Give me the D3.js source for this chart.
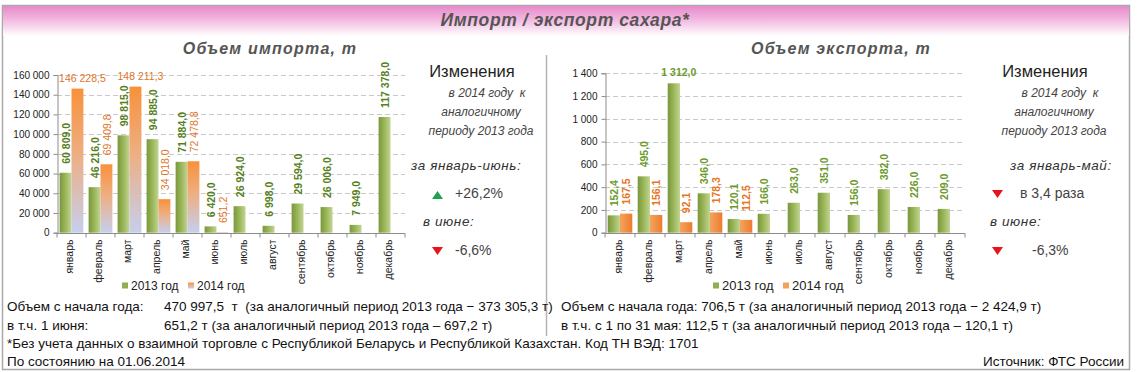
<!DOCTYPE html>
<html>
<head>
<meta charset="utf-8">
<script src="https://cdn.jsdelivr.net/npm/d3@7"></script>
<style>
  body { margin: 0; background: #fff; }
  svg { display: block; font-family: "Liberation Sans", Arial, sans-serif; }
  text { white-space: pre; }
</style>
</head>
<body>
<div id="chart"></div>
<script>
// months on the x axis
var MONTHS = ["январь","февраль","март","апрель","май","июнь","июль","август","сентябрь","октябрь","ноябрь","декабрь"]
var SERIES = ["2013 год","2014 год"]

// import, tonnes
var import2013 = [60809.0, 46216.0, 98815.0, 94885.0, 71884.0, 6420.0, 26924.0, 6998.0, 29594.0, 26006.0, 7949.0, 117378.0]
var import2014 = [146228.5, 69409.8, 148211.3, 34018.0, 72478.8, 651.2]
var importTicks = [0, 20000, 40000, 60000, 80000, 100000, 120000, 140000, 160000]

// export, tonnes
var export2013 = [152.4, 495.0, 1312.0, 346.0, 120.1, 166.0, 263.0, 351.0, 156.0, 382.0, 226.0, 209.0]
var export2014 = [167.5, 156.1, 92.1, 178.3, 112.5]
var exportTicks = [0, 200, 400, 600, 800, 1000, 1200, 1400]

var W = 1145, H = 372

var ru = d3.formatLocale({decimal: ",", thousands: " ", grouping: [3], currency: ["", ""]})
var fmtTick = ru.format(",")
var fmtVal = ru.format(",.1f")

var svg = d3.select("#chart").append("svg")
  .attr("width", W)
  .attr("height", H)

var defs = svg.append("defs")

function grad(id, x2, y2, stops) {
  var g = defs.append("linearGradient").attr("id", id)
    .attr("x1", 0).attr("y1", 0).attr("x2", x2).attr("y2", y2)
  stops.forEach(function(s) {
    g.append("stop").attr("offset", s[0]).attr("stop-color", s[1])
  })
}
grad("hdr", 0, 1, [[0, "#e68acb"], [0.45, "#f2b7df"], [1, "#ffffff"]])
grad("green", 1, 0, [[0, "#7a973b"], [0.5, "#9bb75a"], [1, "#c2d595"]])
grad("orangeImp", 0, 1, [[0, "#f8913a"], [0.45, "#eeae82"], [1, "#c6cfed"]])
grad("orangeExp", 1, 0, [[0, "#f6a35c"], [1, "#ec7d30"]])

// frame + header band
svg.append("rect")
  .attr("x", 2.5).attr("y", 5.5).attr("width", 1127).attr("height", 364)
  .attr("fill", "#fff").attr("stroke", "#a9a9a9").attr("stroke-width", 1.5)
svg.append("rect")
  .attr("x", 3).attr("y", 6).attr("width", 1126).attr("height", 30)
  .attr("fill", "url(#hdr)")

svg.append("text")
  .attr("x", 565).attr("y", 26)
  .attr("text-anchor", "middle")
  .style("font-size", "17.5px").style("font-weight", "bold").style("font-style", "italic")
  .style("letter-spacing", "0.6px")
  .attr("fill", "#555")
  .text("Импорт / экспорт сахара*")

svg.append("line")
  .attr("x1", 546.5).attr("x2", 546.5).attr("y1", 55).attr("y2", 336)
  .attr("stroke", "#b5b5b5").attr("stroke-width", 1.5)

function drawChart(cfg) {
  var g = svg.append("g")

  g.append("text")
    .attr("x", cfg.titleX).attr("y", 54)
    .attr("text-anchor", "middle")
    .style("font-size", "16px").style("font-weight", "bold").style("font-style", "italic")
    .style("letter-spacing", "1.2px")
    .attr("fill", "#555")
    .text(cfg.title)

  var x = d3.scaleBand()
    .domain(MONTHS)
    .range(cfg.xRange)

  var y = d3.scaleLinear()
    .domain([0, cfg.ticks[cfg.ticks.length - 1]])
    .range(cfg.yRange)

  // dashed gridlines
  g.append("g")
    .selectAll("line")
    .data(cfg.ticks.slice(1))
    .enter()
    .append("line")
    .attr("x1", cfg.xRange[0]).attr("x2", cfg.xRange[1])
    .attr("y1", d => Math.round(y(d)) + 0.5).attr("y2", d => Math.round(y(d)) + 0.5)
    .attr("stroke", "#c9c9c9")
    .attr("stroke-dasharray", "5,3")

  // y axis
  var ya = g.append("g")
    .attr("transform", "translate(" + (cfg.xRange[0] + 0.5) + ",0)")
    .call(d3.axisLeft(y).tickValues(cfg.ticks).tickFormat(fmtTick).tickSize(4).tickPadding(4))
  ya.select(".domain").attr("stroke", "#8c8c8c")
  ya.selectAll(".tick line").attr("stroke", "#8c8c8c")
  ya.selectAll(".tick text").attr("fill", "#222").style("font-size", "10px").style("font-family", "Liberation Sans, Arial, sans-serif")

  // x axis: line, ticks at band edges, rotated month names
  var y0 = Math.round(y(0)) + 0.5
  g.append("line")
    .attr("x1", cfg.xRange[0]).attr("x2", cfg.xRange[1])
    .attr("y1", y0).attr("y2", y0)
    .attr("stroke", "#8c8c8c")
  g.append("g")
    .selectAll("line")
    .data(MONTHS.concat(["end"]))
    .enter()
    .append("line")
    .attr("x1", (d, i) => x.range()[0] + i * x.step())
    .attr("x2", (d, i) => x.range()[0] + i * x.step())
    .attr("y1", y0).attr("y2", y0 + 4)
    .attr("stroke", "#8c8c8c")

  g.append("g")
    .selectAll("text")
    .data(MONTHS)
    .enter()
    .append("text")
    .attr("transform", d => "translate(" + (x(d) + x.bandwidth() / 2 - 2) + "," + (y0 + 6) + ") rotate(-90)")
    .attr("text-anchor", "end")
    .attr("dy", "0.35em")
    .style("font-size", "10.5px")
    .attr("fill", "#222")
    .text(d => d)

  var bw = x.bandwidth() * 0.41
  var series = [
    {vals: cfg.a, off: -bw, fill: "url(#green)", color: cfg.aColor, weight: "bold"},
    {vals: cfg.b, off: 0, fill: cfg.bFill, color: cfg.bColor, weight: cfg.bWeight}
  ]

  series.forEach(function(s) {
    var data = s.vals.map((v, i) => ({m: MONTHS[i], v: v}))
    g.append("g")
      .selectAll("rect")
      .data(data)
      .enter()
      .append("rect")
      .attr("x", d => x(d.m) + x.bandwidth() / 2 + s.off)
      .attr("y", d => y(d.v))
      .attr("width", bw)
      .attr("height", d => y(0) - y(d.v))
      .attr("fill", s.fill)

    // labels: rotated above the bar, or flat when it would run out of the plot
    g.append("g")
      .selectAll("text")
      .data(data)
      .enter()
      .append("text")
      .each(function(d) {
        var cx = x(d.m) + x.bandwidth() / 2 + s.off + bw / 2
        var top = y(d.v)
        var t = d3.select(this)
        var flat = top - 9 - fmtVal(d.v).length * 5.4 < 52
        if (flat) {
          t.attr("x", cx + 5).attr("y", top - 7).attr("text-anchor", "middle")
        } else {
          t.attr("transform", "translate(" + (cx + 0.5) + "," + (top - 9) + ") rotate(-90)")
            .attr("dy", "0.35em")
            .attr("text-anchor", "start")
        }
      })
      .style("font-size", "10.5px")
      .style("font-weight", s.weight)
      .attr("fill", s.color)
      .text(d => fmtVal(d.v))
  })

  // legend
  var lg = g.append("g").attr("transform", "translate(" + cfg.legendX + ",290)")
  var items = lg.selectAll("g")
    .data(SERIES)
    .enter()
    .append("g")
    .attr("transform", (d, i) => "translate(" + (i * cfg.legendStep) + ",0)")
  items.append("rect")
    .attr("x", 0).attr("y", -7.5).attr("width", 6).attr("height", 6)
    .attr("fill", (d, i) => i == 0 ? "#8fae4f" : cfg.bLegend)
  items.append("text")
    .attr("x", 9).attr("y", 0)
    .style("font-size", cfg.legendSize)
    .attr("fill", "#222")
    .text(d => d)

  // right-hand "changes" panel
  var p = svg.append("g")
  p.append("text").attr("x", cfg.panelX).attr("y", 77).attr("text-anchor", "middle")
    .style("font-size", "16.5px").attr("fill", "#222").text("Изменения")
  var it = ["в 2014 году  к", "аналогичному", "периоду 2013 года"]
  p.selectAll(".it").data(it).enter().append("text")
    .attr("x", (d, i) => cfg.panelX + (i == 0 ? 15 : 9)).attr("y", (d, i) => 97 + i * 19)
    .attr("text-anchor", "middle")
    .style("font-size", "12px").style("font-style", "italic").attr("fill", "#444")
    .text(d => d)
  p.append("text").attr("x", cfg.periodX).attr("y", 170)
    .style("font-size", "13.5px").style("font-style", "italic").style("letter-spacing", "0.6px")
    .attr("fill", "#333").text(cfg.period)
  p.append("text").attr("x", cfg.juneX).attr("y", 226)
    .style("font-size", "13.5px").style("font-style", "italic").style("letter-spacing", "0.6px")
    .attr("fill", "#333").text("в июне:")

  var tx = cfg.triX
  var tri = p.append("path")
    .attr("fill", cfg.upFirst ? "#1ea24f" : "#e8141b")
  if (cfg.upFirst) tri.attr("d", "M" + tx + ",199 L" + (tx + 11) + ",199 L" + (tx + 5.5) + ",191 Z")
  else tri.attr("d", "M" + tx + ",190 L" + (tx + 11) + ",190 L" + (tx + 5.5) + ",198 Z")
  p.append("path").attr("fill", "#e8141b")
    .attr("d", "M" + tx + ",247 L" + (tx + 11) + ",247 L" + (tx + 5.5) + ",255 Z")
  p.append("text").attr("x", cfg.chgX).attr("y", 198)
    .style("font-size", "14px").attr("fill", "#444").text(cfg.chg1)
  p.append("text").attr("x", cfg.chgX2).attr("y", 255)
    .style("font-size", "14px").attr("fill", "#444").text(cfg.chg2)
}

drawChart({
  title: "Объем импорта, т", titleX: 270,
  xRange: [57, 405], yRange: [232.7, 75], ticks: importTicks,
  a: import2013, b: import2014,
  aColor: "#56801c",
  bFill: "url(#orangeImp)", bColor: "#e0742a", bWeight: "normal", bLegend: "url(#orangeImp)",
  legendX: 122, legendStep: 66, legendSize: "12px",
  panelX: 472, periodX: 411, period: "за январь-июнь:", juneX: 423, triX: 432,
  upFirst: true, chg1: "+26,2%", chg2: "-6,6%", chgX: 455, chgX2: 455
})

drawChart({
  title: "Объем экспорта, т", titleX: 841,
  xRange: [605, 965], yRange: [232.7, 73.3], ticks: exportTicks,
  a: export2013, b: export2014,
  aColor: "#6c9a2a",
  bFill: "url(#orangeExp)", bColor: "#e8741e", bWeight: "bold", bLegend: "#f4a15a",
  legendX: 713, legendStep: 70, legendSize: "13px",
  panelX: 1045, periodX: 1010, period: "за январь-май:", juneX: 990, triX: 992,
  upFirst: false, chg1: "в 3,4 раза", chg2: "-6,3%", chgX: 1020, chgX2: 1032
})

// footnotes
var notes = [
  {x: 7, y: 311, t: "Объем с начала года:"},
  {x: 164, y: 311, t: "470 997,5  т  (за аналогичный период 2013 года − 373 305,3 т)"},
  {x: 7, y: 330, t: "в т.ч. 1 июня:"},
  {x: 164, y: 330, t: "651,2 т (за аналогичный период 2013 года – 697,2 т)"},
  {x: 7, y: 348, t: "*Без учета данных о взаимной торговле с Республикой Беларусь и Республикой Казахстан. Код ТН ВЭД: 1701"},
  {x: 7, y: 366, t: "По состоянию на 01.06.2014"},
  {x: 561, y: 311, t: "Объем с начала года: 706,5 т (за аналогичный период 2013 года − 2 424,9 т)"},
  {x: 561, y: 330, t: "в т.ч. с 1 по 31 мая: 112,5 т (за аналогичный период 2013 года – 120,1 т)"}
]
svg.append("g")
  .selectAll("text")
  .data(notes)
  .enter()
  .append("text")
  .attr("x", d => d.x).attr("y", d => d.y)
  .style("font-size", "13.5px")
  .attr("fill", "#111")
  .text(d => d.t)

svg.append("text")
  .attr("x", 1124).attr("y", 366)
  .attr("text-anchor", "end")
  .style("font-size", "13.5px")
  .attr("fill", "#111")
  .text("Источник: ФТС России")
</script>
</body>
</html>
